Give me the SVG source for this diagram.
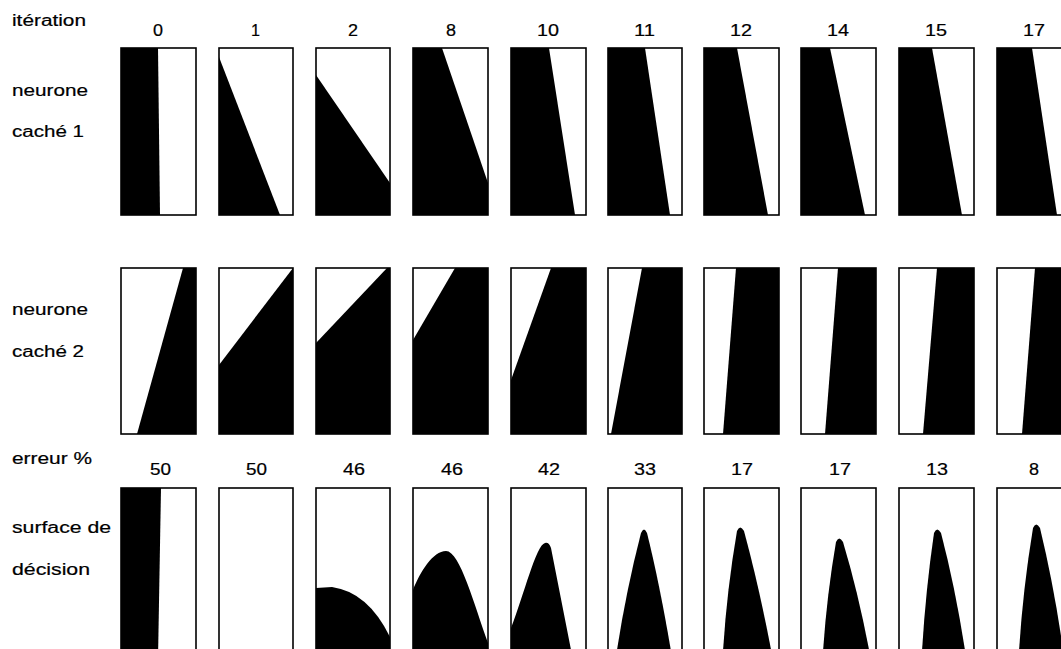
<svg xmlns="http://www.w3.org/2000/svg" width="1061" height="649" viewBox="0 0 1061 649">
<style>
.frame{fill:none;stroke:#000;stroke-width:1.6}
.blk{fill:#000}
.lbl{font-family:"Liberation Sans",Arial,sans-serif;font-size:16px;fill:#000;stroke:#000;stroke-width:0.2}
.num{font-family:"Liberation Sans",Arial,sans-serif;font-size:16px;fill:#000;stroke:#000;stroke-width:0.2}
</style>
<rect x="0" y="0" width="1061" height="649" fill="#fff"/>
<g id="labels">
<text class="lbl" x="12" y="26" textLength="74" lengthAdjust="spacingAndGlyphs">itération</text>
<text class="lbl" x="12" y="96" textLength="76" lengthAdjust="spacingAndGlyphs">neurone</text>
<text class="lbl" x="12" y="137" textLength="72" lengthAdjust="spacingAndGlyphs">caché 1</text>
<text class="lbl" x="12" y="315" textLength="76" lengthAdjust="spacingAndGlyphs">neurone</text>
<text class="lbl" x="12" y="357" textLength="72" lengthAdjust="spacingAndGlyphs">caché 2</text>
<text class="lbl" x="12" y="464" textLength="80" lengthAdjust="spacingAndGlyphs">erreur %</text>
<text class="lbl" x="12" y="533" textLength="99" lengthAdjust="spacingAndGlyphs">surface de</text>
<text class="lbl" x="12" y="575" textLength="78" lengthAdjust="spacingAndGlyphs">décision</text>
</g>
<g id="iterations">
<text class="num" x="153" y="36" textLength="10" lengthAdjust="spacingAndGlyphs">0</text>
<text class="num" x="251" y="36" textLength="9" lengthAdjust="spacingAndGlyphs">1</text>
<text class="num" x="348" y="36" textLength="10" lengthAdjust="spacingAndGlyphs">2</text>
<text class="num" x="446" y="36" textLength="10" lengthAdjust="spacingAndGlyphs">8</text>
<text class="num" x="537" y="36" textLength="22" lengthAdjust="spacingAndGlyphs">10</text>
<text class="num" x="634" y="36" textLength="21" lengthAdjust="spacingAndGlyphs">11</text>
<text class="num" x="730" y="36" textLength="22" lengthAdjust="spacingAndGlyphs">12</text>
<text class="num" x="827" y="36" textLength="22" lengthAdjust="spacingAndGlyphs">14</text>
<text class="num" x="925" y="36" textLength="22" lengthAdjust="spacingAndGlyphs">15</text>
<text class="num" x="1023" y="36" textLength="22" lengthAdjust="spacingAndGlyphs">17</text>
</g>
<g id="errors">
<text class="num" x="150" y="475" textLength="21" lengthAdjust="spacingAndGlyphs">50</text>
<text class="num" x="246" y="475" textLength="21" lengthAdjust="spacingAndGlyphs">50</text>
<text class="num" x="343" y="475" textLength="22" lengthAdjust="spacingAndGlyphs">46</text>
<text class="num" x="441" y="475" textLength="22" lengthAdjust="spacingAndGlyphs">46</text>
<text class="num" x="538" y="475" textLength="22" lengthAdjust="spacingAndGlyphs">42</text>
<text class="num" x="634" y="475" textLength="22" lengthAdjust="spacingAndGlyphs">33</text>
<text class="num" x="731" y="475" textLength="22" lengthAdjust="spacingAndGlyphs">17</text>
<text class="num" x="829" y="475" textLength="22" lengthAdjust="spacingAndGlyphs">17</text>
<text class="num" x="926" y="475" textLength="22" lengthAdjust="spacingAndGlyphs">13</text>
<text class="num" x="1029" y="475" textLength="10" lengthAdjust="spacingAndGlyphs">8</text>
</g>
<g id="row1">
<g id="h1-it0"><polygon class="blk" points="121,48 158,48 160,215 121,215"/><rect class="frame" x="121" y="48" width="75" height="167"/></g>
<g id="h1-it1"><polygon class="blk" points="219,57 280,215 219,215"/><rect class="frame" x="219" y="48" width="74" height="167"/></g>
<g id="h1-it2"><polygon class="blk" points="316,75 390,183 390,215 316,215"/><rect class="frame" x="316" y="48" width="74" height="167"/></g>
<g id="h1-it8"><polygon class="blk" points="413,48 442,48 488,183 488,215 413,215"/><rect class="frame" x="413" y="48" width="75" height="167"/></g>
<g id="h1-it10"><polygon class="blk" points="511,48 549,48 575,215 511,215"/><rect class="frame" x="511" y="48" width="75" height="167"/></g>
<g id="h1-it11"><polygon class="blk" points="608,48 645,48 670,215 608,215"/><rect class="frame" x="608" y="48" width="74" height="167"/></g>
<g id="h1-it12"><polygon class="blk" points="704,48 737,48 768,215 704,215"/><rect class="frame" x="704" y="48" width="75" height="167"/></g>
<g id="h1-it14"><polygon class="blk" points="801,48 830,48 865,215 801,215"/><rect class="frame" x="801" y="48" width="75" height="167"/></g>
<g id="h1-it15"><polygon class="blk" points="899,48 932,48 962,215 899,215"/><rect class="frame" x="899" y="48" width="75" height="167"/></g>
<g id="h1-it17"><polygon class="blk" points="997,48 1032,48 1057,215 997,215"/><rect class="frame" x="997" y="48" width="75" height="167"/></g>
</g>
<g id="row2">
<g id="h2-it0"><polygon class="blk" points="183,268 196,268 196,434 137,434"/><rect class="frame" x="121" y="268" width="75" height="166"/></g>
<g id="h2-it1"><polygon class="blk" points="219,365 293,268 293,434 219,434"/><rect class="frame" x="219" y="268" width="74" height="166"/></g>
<g id="h2-it2"><polygon class="blk" points="316,343 387,268 390,268 390,434 316,434"/><rect class="frame" x="316" y="268" width="74" height="166"/></g>
<g id="h2-it8"><polygon class="blk" points="413,340 455,268 488,268 488,434 413,434"/><rect class="frame" x="413" y="268" width="75" height="166"/></g>
<g id="h2-it10"><polygon class="blk" points="511,380 551,268 586,268 586,434 511,434"/><rect class="frame" x="511" y="268" width="75" height="166"/></g>
<g id="h2-it11"><polygon class="blk" points="642,268 682,268 682,434 611,434"/><rect class="frame" x="608" y="268" width="74" height="166"/></g>
<g id="h2-it12"><polygon class="blk" points="736,268 779,268 779,434 723,434"/><rect class="frame" x="704" y="268" width="75" height="166"/></g>
<g id="h2-it14"><polygon class="blk" points="838,268 876,268 876,434 825,434"/><rect class="frame" x="801" y="268" width="75" height="166"/></g>
<g id="h2-it15"><polygon class="blk" points="937,268 974,268 974,434 923,434"/><rect class="frame" x="899" y="268" width="75" height="166"/></g>
<g id="h2-it17"><polygon class="blk" points="1035,268 1072,268 1072,434 1022,434"/><rect class="frame" x="997" y="268" width="75" height="166"/></g>
</g>
<g id="row3">
<g id="ds-it0"><polygon class="blk" points="121,488 161,488 158,660 121,660"/><rect class="frame" x="121" y="488" width="75" height="180"/></g>
<g id="ds-it1"><rect class="frame" x="219" y="488" width="74" height="180"/></g>
<g id="ds-it2"><path class="blk" d="M316,588 L332,587 Q368,592 390,637 L390,660 L316,660 Z"/><rect class="frame" x="316" y="488" width="74" height="180"/></g>
<g id="ds-it8"><path class="blk" d="M413,590 C420,572 433,551 446,551 C460,551 474,605 488,643 L488,660 L413,660 Z"/><rect class="frame" x="413" y="488" width="75" height="180"/></g>
<g id="ds-it10"><path class="blk" d="M511,628 C524,595 536,545 545,543 Q549,542 551,548 L573,660 L511,660 Z"/><rect class="frame" x="511" y="488" width="75" height="180"/></g>
<g id="ds-it11"><path class="blk" d="M615.5,660 Q625,595 641,533 Q644,526 647,533 Q660,585 672.5,660 Z"/><rect class="frame" x="608" y="488" width="74" height="180"/></g>
<g id="ds-it12"><path class="blk" d="M722.5,660 Q726,595 737,531 Q740,524 744,531 Q760,590 773,660 Z"/><rect class="frame" x="704" y="488" width="75" height="180"/></g>
<g id="ds-it14"><path class="blk" d="M822.5,660 Q826,600 836,542 Q839,535 843,542 Q859,595 871,660 Z"/><rect class="frame" x="801" y="488" width="75" height="180"/></g>
<g id="ds-it15"><path class="blk" d="M921.5,660 Q925,595 934,533 Q937,526 941,533 Q956,590 966.5,660 Z"/><rect class="frame" x="899" y="488" width="75" height="180"/></g>
<g id="ds-it17"><path class="blk" d="M1018.5,660 Q1022,595 1033,528 Q1036,521 1040,528 Q1055,590 1064.5,660 Z"/><rect class="frame" x="997" y="488" width="75" height="180"/></g>
</g>
</svg>
